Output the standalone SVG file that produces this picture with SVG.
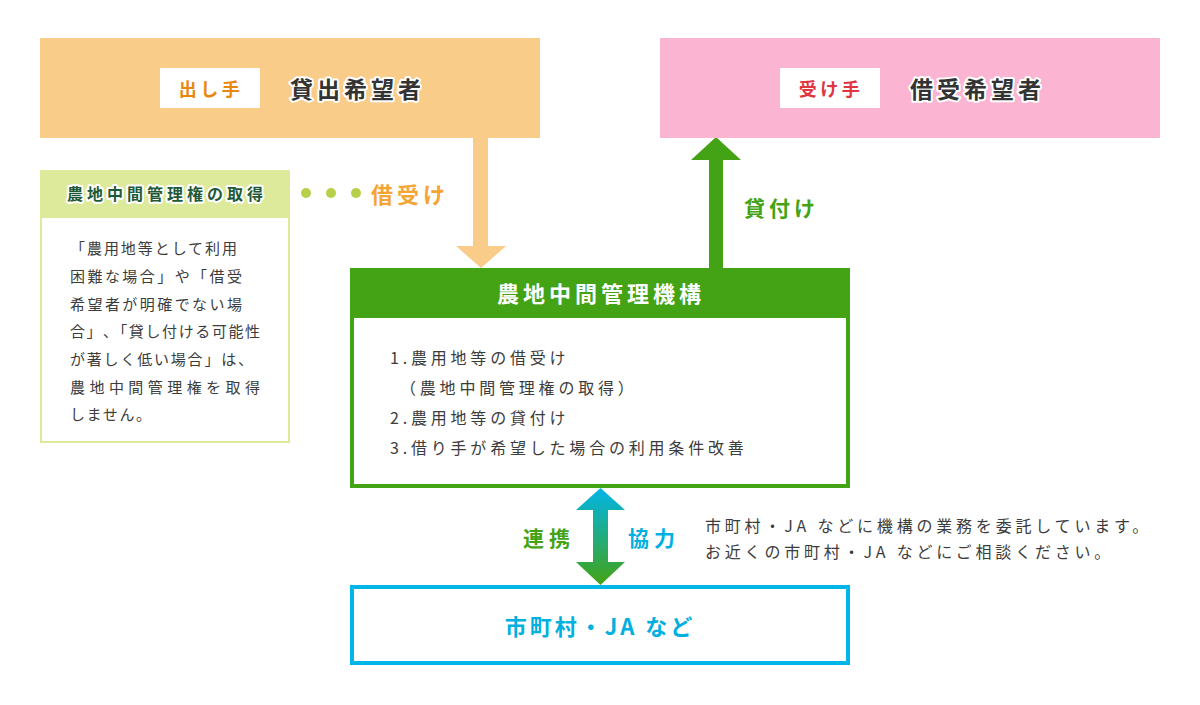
<svg xmlns="http://www.w3.org/2000/svg" width="1200" height="705" viewBox="0 0 1200 705">
<defs>
<linearGradient id="gradBi" x1="0" y1="0" x2="0" y2="1">
<stop offset="0" stop-color="#00b5e8"/>
<stop offset="1" stop-color="#43a314"/>
</linearGradient>
<style>
text{font-family:"Noto Sans CJK JP","Noto Sans",sans-serif;dominant-baseline:central}
.b{font-weight:700}
.halo{paint-order:stroke;stroke:#fff;stroke-width:4px;stroke-linejoin:round}
.body{font-size:16px;fill:#3c3c3c;letter-spacing:3.8px}
.note{font-size:15px;fill:#3c3c3c}
</style>
</defs>
<rect width="1200" height="705" fill="#fff"/>

<g id="connectors">
<polygon id="arrow-kariuke" points="473,138 488,138 488,246 506,246 481,268 456,246 473,246" fill="#f9cc8a"/>
<polygon id="arrow-kashitsuke" points="709,268 723,268 723,160 741,160 716,137 691,160 709,160" fill="#43a314"/>
<polygon id="arrow-renkei" points="600.5,488 625,510 608,510 608,562 625,562 600.5,585 576,562 593,562 593,510 576,510" fill="url(#gradBi)"/>
<g id="dots" fill="#b6d04a">
<circle cx="306" cy="193" r="5"/>
<circle cx="331" cy="193" r="5"/>
<circle cx="356" cy="193" r="5"/>
</g>
<text x="371" y="193" class="b" font-size="22" fill="#f4a535" letter-spacing="4">借受け</text>
<text x="744" y="207" class="b" font-size="21" fill="#43a314" letter-spacing="4">貸付け</text>
<text x="523" y="537" class="b" font-size="21" fill="#43a314" letter-spacing="5">連携</text>
<text x="628" y="537" class="b" font-size="21" fill="#00b0e0" letter-spacing="5">協力</text>
</g>

<g id="node-dashite">
<rect x="40" y="38" width="500" height="100" fill="#f9cc8a"/>
<rect x="160" y="68" width="100" height="40" fill="#fff"/>
<text x="211" y="88" text-anchor="middle" class="b" font-size="18" fill="#e8870c" letter-spacing="3.5">出し手</text>
<text x="290" y="88" class="b halo" font-size="23" fill="#333" letter-spacing="4">貸出希望者</text>
</g>

<g id="node-ukete">
<rect x="660" y="38" width="500" height="100" fill="#fbb5d3"/>
<rect x="780" y="68" width="100" height="40" fill="#fff"/>
<text x="831" y="88" text-anchor="middle" class="b" font-size="18" fill="#e0363f" letter-spacing="3.5">受け手</text>
<text x="910" y="88" class="b halo" font-size="23" fill="#333" letter-spacing="4">借受希望者</text>
</g>

<g id="node-note">
<rect x="41" y="171" width="248" height="271" fill="#fff" stroke="#dde99b" stroke-width="2"/>
<rect x="40" y="170" width="250" height="48" fill="#dde99b"/>
<text x="67" y="193" class="b halo" font-size="16" fill="#1f5a38" letter-spacing="4" stroke-width="3">農地中間管理権の取得</text>
<text class="note">
<tspan x="70" y="247" textLength="167" lengthAdjust="spacing">「農用地等として利用</tspan>
<tspan x="70" y="275" textLength="172" lengthAdjust="spacing">困難な場合」や「借受</tspan>
<tspan x="70" y="303" textLength="172" lengthAdjust="spacing">希望者が明確でない場</tspan>
<tspan x="70" y="330" textLength="190" lengthAdjust="spacing">合」､「貸し付ける可能性</tspan>
<tspan x="70" y="358" textLength="183" lengthAdjust="spacing">が著しく低い場合」は、</tspan>
<tspan x="70" y="386" textLength="190" lengthAdjust="spacing">農地中間管理権を取得</tspan>
<tspan x="70" y="413" textLength="81" lengthAdjust="spacing">しません。</tspan>
</text>
</g>

<g id="node-kikou">
<rect x="352" y="270" width="496" height="216" fill="#fff" stroke="#43a314" stroke-width="4"/>
<rect x="350" y="268" width="500" height="50" fill="#43a314"/>
<text x="601" y="292" text-anchor="middle" class="b" font-size="22" fill="#fff" letter-spacing="4">農地中間管理機構</text>
<text class="body">
<tspan x="390" y="357">1.農用地等の借受け</tspan>
<tspan x="400" y="387">（農地中間管理権の取得）</tspan>
<tspan x="390" y="417">2.農用地等の貸付け</tspan>
<tspan x="390" y="447">3.借り手が希望した場合の利用条件改善</tspan>
</text>
</g>

<g id="node-ja">
<rect x="352" y="587" width="496" height="76" fill="#fff" stroke="#00b5e8" stroke-width="4"/>
<text x="600" y="625" text-anchor="middle" class="b" font-size="22" fill="#00b0e0" letter-spacing="3">市町村・JA など</text>
</g>

<g id="note-ja">
<text class="body">
<tspan x="705" y="525">市町村・JA などに機構の業務を委託しています。</tspan>
<tspan x="705" y="551">お近くの市町村・JA などにご相談ください。</tspan>
</text>
</g>
</svg>
